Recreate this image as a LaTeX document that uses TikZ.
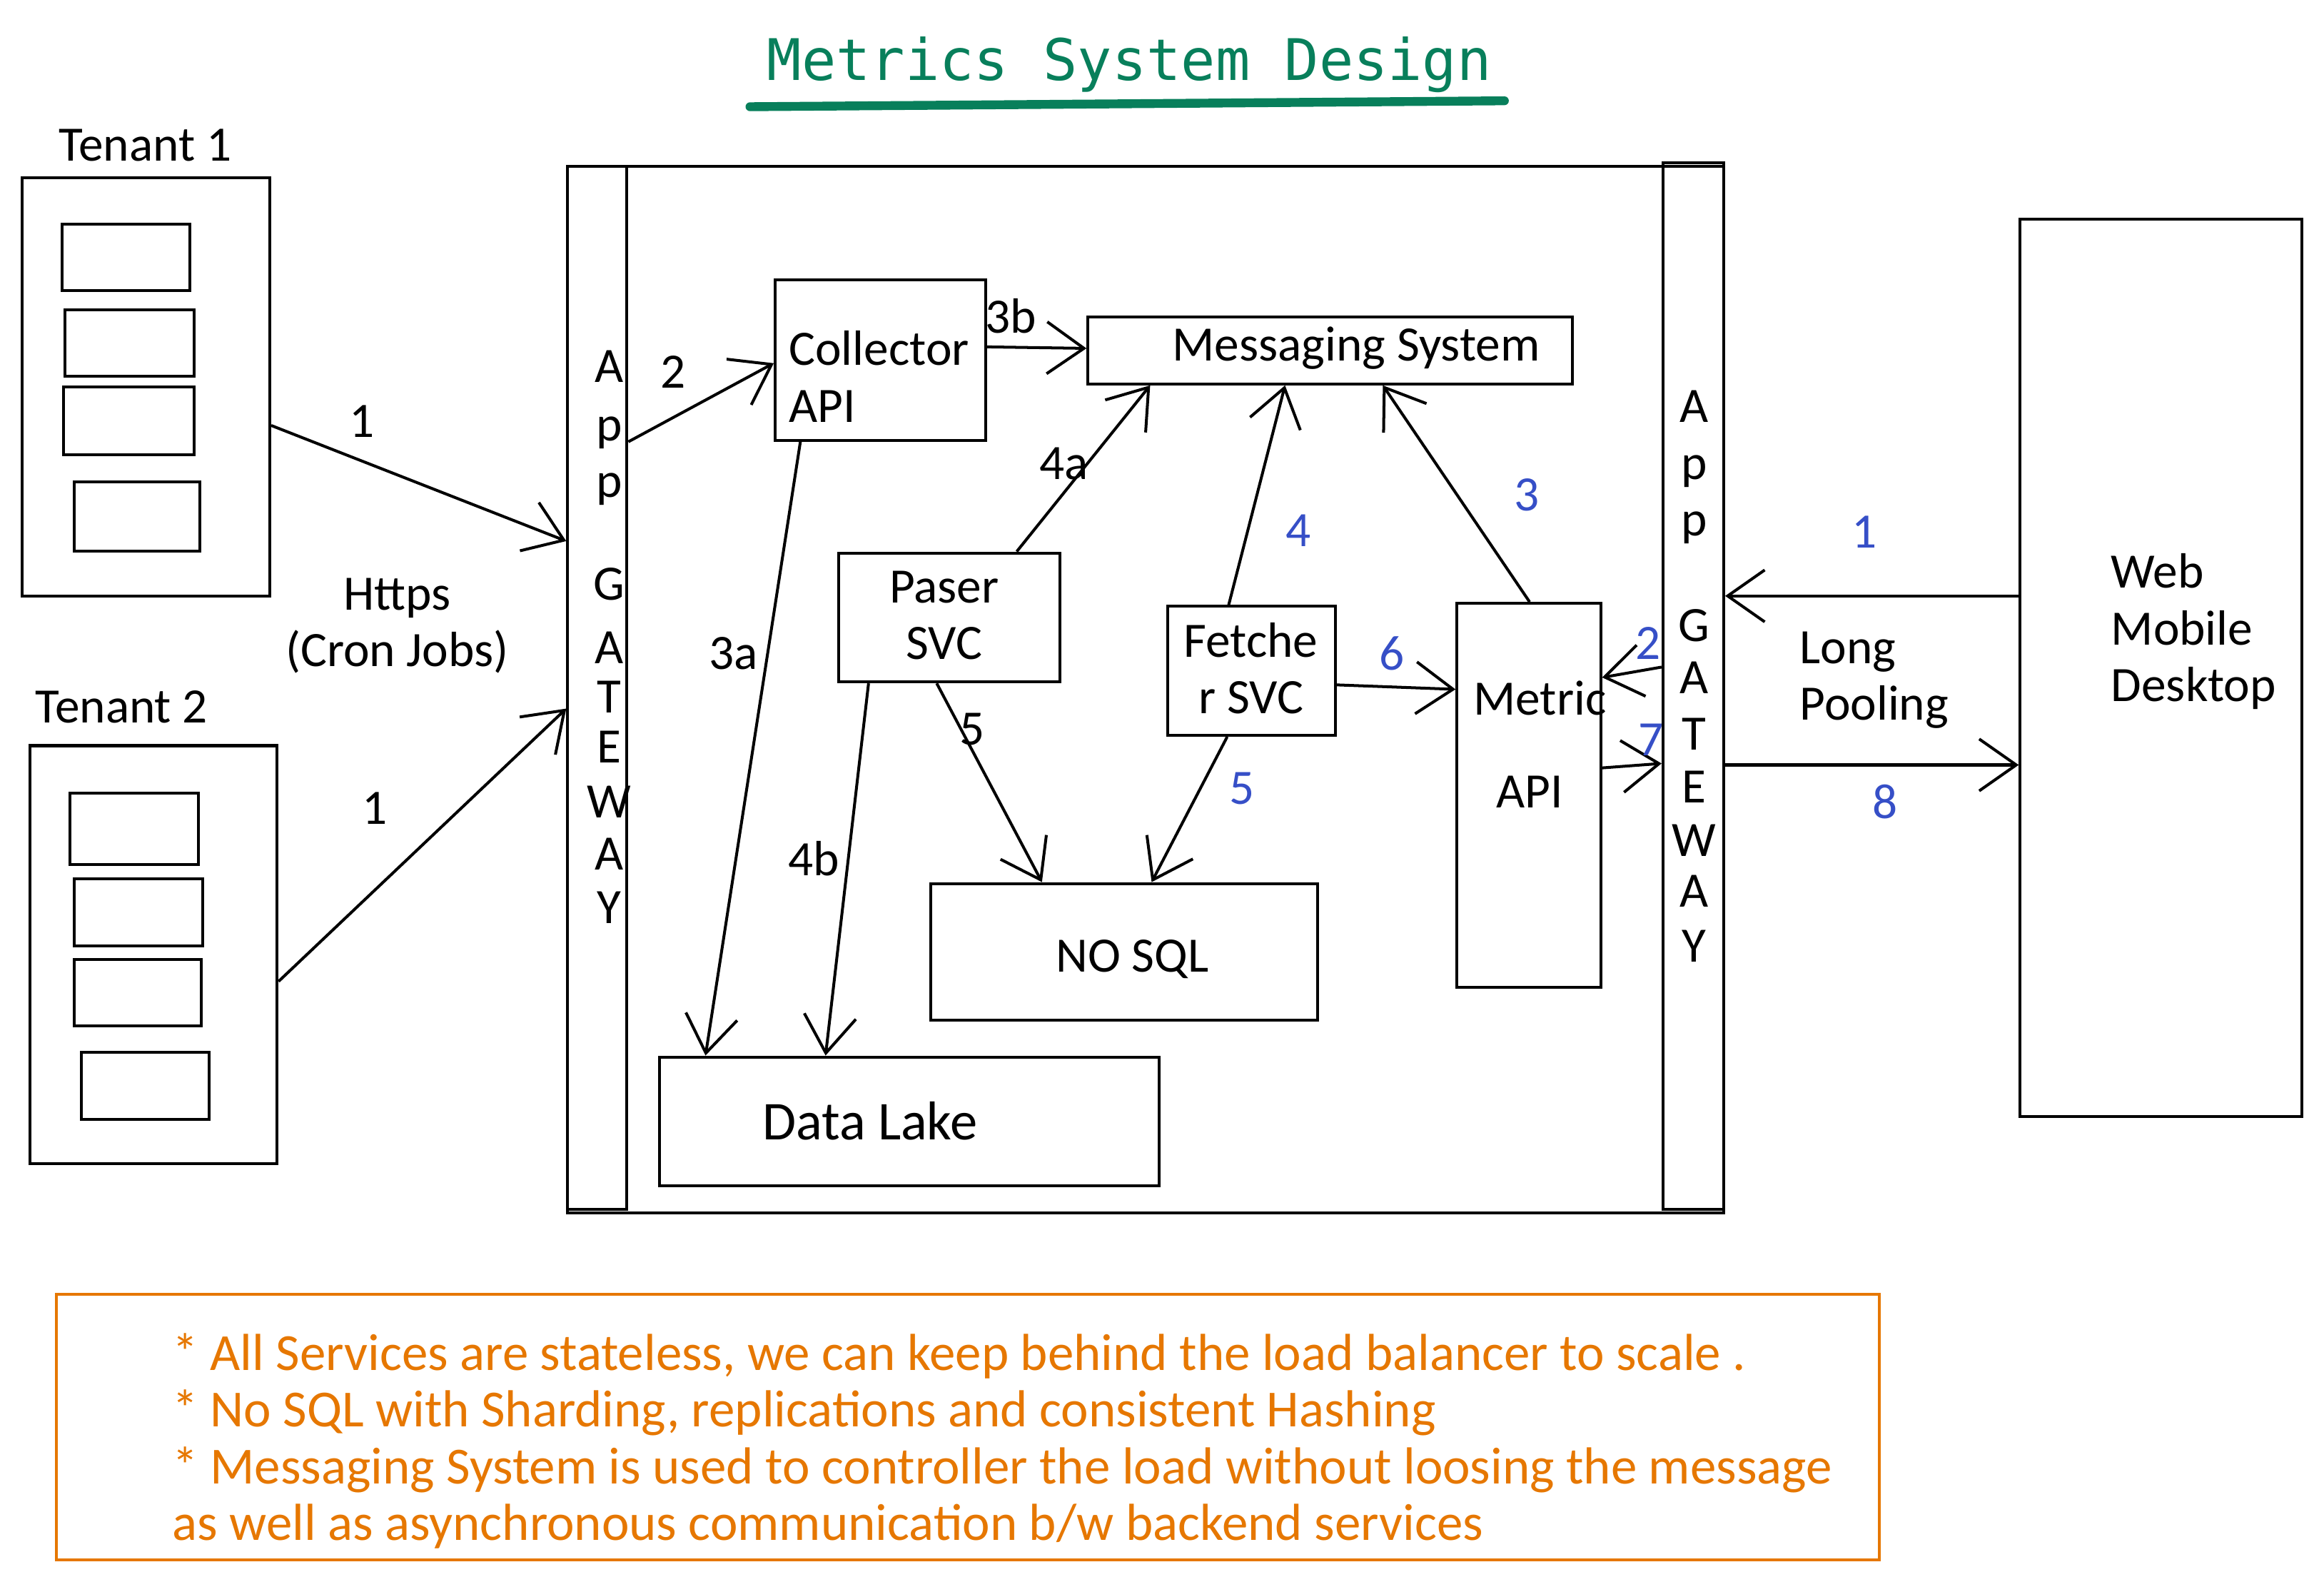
\documentclass[tikz,border=0pt]{standalone}
\usepackage{fontspec}
\setmainfont{Carlito}
\newfontfamily\titlefont{DejaVu Sans Mono}
\usepackage{tikz}
\usetikzlibrary{arrows.meta,fit}
\definecolor{titlegreen}{HTML}{087F5B}
\definecolor{stepblue}{HTML}{364FC7}
\definecolor{noteorange}{HTML}{E67700}
\newcommand{\hand}{\fontsize{19}{21.7}\selectfont}
\tikzset{
  box/.style={draw,line width=1.1pt,inner sep=0pt},
  flow/.style={line width=1.1pt,-{Straight Barb[length=5mm,width=7mm]}},
  lbl/.style={font=\hand,inner sep=0pt},
  num/.style={lbl,text=stepblue},
}
\begin{document}
\begin{tikzpicture}[x=0.02cm,y=-0.02cm]
 \useasboundingbox (0,0) rectangle (1568,1067);
 \node[font=\titlefont\fontsize{22}{26}\selectfont,text=titlegreen,anchor=base] (title) at (762,54) {Metrics System Design};
 \draw[titlegreen,line width=3.4pt,line cap=round] (506,72) -- (1015,68);

 \node[box,fit={(15,120)(182,402)}] (ten1) {};
 \node[lbl] (ten1name) at (98,98) {Tenant 1};
 \foreach \xa/\ya/\xb/\yb [count=\i] in {42/151/128/196,44/209/131/254,43/261/131/307,50/325/135/372}
   \node[box,fit={(\xa,\ya)(\xb,\yb)}] (ten1db\i) {};
 \node[box,fit={(20,503)(187,785)}] (ten2) {};
 \node[lbl] (ten2name) at (82,477) {Tenant 2};
 \foreach \xa/\ya/\xb/\yb [count=\i] in {47/535/134/583,50/593/137/638,50/647/136/692,55/710/141/755}
   \node[box,fit={(\xa,\ya)(\xb,\yb)}] (ten2db\i) {};
 \node[lbl,align=center] (https) at (268,422) {Https\\(Cron Jobs)};

 \node[box,fit={(383,112)(1163,818)}] (sys) {};
 \node[box,fit={(383,112)(423,816)}] (gwl) {};
 \node[box,fit={(1122,110)(1163,816)}] (gwr) {};
 \foreach \ch/\y in {A/247,p/292,p/330,G/394,A/437,T/470,E/504,W/541,A/576,Y/612}
   \node[lbl] (gwl\y) at (411,\y) {\ch};
 \foreach \ch/\y in {A/274,p/318,p/356,G/422,A/457,T/495,E/531,W/567,A/601,Y/638}
   \node[lbl] (gwr\y) at (1143,\y) {\ch};

 \node[box,fit={(523,189)(665,297)}] (coll) {};
 \node[lbl,align=left,anchor=west] (colltext) at (532,254) {Collector\\API};
 \node[box,fit={(734,214)(1061,259)}] (msg) {};
 \node[lbl] (msgtext) at (915,235) {Messaging System};
 \node[box,fit={(566,373)(715,460)}] (paser) {};
 \node[lbl,align=center] (pasertext) at (637,415) {Paser\\SVC};
 \node[box,fit={(788,409)(901,496)}] (fetch) {};
 \node[lbl,align=center] (fetchtext) at (844,451) {Fetche\\r SVC};
 \node[box,fit={(983,407)(1080,666)}] (metric) {};
 \node[lbl] (metrictext) at (1039,471) {Metric};
 \node[lbl] (apitext) at (1032,534) {API};
 \node[box,fit={(628,596)(889,688)}] (nosql) {};
 \node[lbl] (nosqltext) at (764,647) {NO SQL};
 \node[box,fit={(445,713)(782,800)}] (lake) {};
 \node[lbl,font=\fontsize{21}{24}\selectfont] (laketext) at (587,756) {Data Lake};
 \node[box,fit={(1363,148)(1553,753)}] (client) {};
 \node[lbl,align=left,anchor=west] (devices) at (1424,426) {Web\\Mobile\\Desktop};

 \draw[flow] (ten1.east |- 0,287) -- (gwl.west |- 0,365);
 \draw[flow] (ten2.east |- 0,662) -- (gwl.west |- 0,478);
 \draw[flow] (gwl.east |- 0,298) -- (coll.west |- 0,245);
 \draw[flow] (coll.east |- 0,234) -- (msg.west |- 0,235);
 \draw[flow] (coll.south -| 540,0) -- (lake.north -| 476,0);
 \draw[flow] (paser.north -| 686,0) -- (msg.south -| 776,0);
 \draw[flow] (paser.south -| 586,0) -- (lake.north -| 557,0);
 \draw[flow] (paser.south -| 632,0) -- (nosql.north -| 703,0);
 \draw[flow] (fetch.north -| 829,0) -- (msg.south -| 867,0);
 \draw[flow] (metric.north -| 1032,0) -- (msg.south -| 933,0);
 \draw[flow] (fetch.south -| 828,0) -- (nosql.north -| 777,0);
 \draw[flow] (fetch.east |- 0,462) -- (metric.west |- 0,465);
 \draw[flow] (gwr.west |- 0,450) -- (metric.east |- 0,457);
 \draw[flow] (metric.east |- 0,518) -- (gwr.west |- 0,515);
 \draw[flow] (client.west |- 0,402) -- (gwr.east |- 0,402);
 \draw[flow] (gwr.east |- 0,516) -- (client.west |- 0,516);

 \node[lbl] (one1) at (244,284) {1};
 \node[lbl] (one2) at (253,545) {1};
 \node[lbl] (two) at (454,251) {2};
 \node[lbl] (lbl3b) at (682,213) {3b};
 \node[lbl] (lbl3a) at (495,441) {3a};
 \node[lbl] (lbl4a) at (718,313) {4a};
 \node[lbl] (lbl4b) at (549,579) {4b};
 \node[lbl] (lbl5) at (656,492) {5};
 \node[num] (blue4) at (876,358) {4};
 \node[num] (blue3) at (1030,334) {3};
 \node[num] (blue5) at (838,532) {5};
 \node[num] (blue6) at (939,441) {6};
 \node[num] (blue2) at (1112,434) {2};
 \node[num] (blue7) at (1114,499) {7};
 \node[num] (blue1) at (1258,359) {1};
 \node[num] (blue8) at (1272,541) {8};
 \node[lbl,align=left,anchor=west] (pooling) at (1214,459) {Long\\Pooling};

 \node[box,draw=noteorange,fit={(38,873)(1268,1052)}] (note) {};
 \node[lbl,font=\fontsize{20}{21.7}\selectfont,text=noteorange,align=left,anchor=west] (notetext) at (116,972)
   {* All Services are stateless, we can keep behind the load balancer to scale .\\
    * No SQL with Sharding, replications and consistent Hashing\\
    * Messaging System is used to controller the load without loosing the message\\
    as well as asynchronous communication b/w backend services};
\end{tikzpicture}
\end{document}
